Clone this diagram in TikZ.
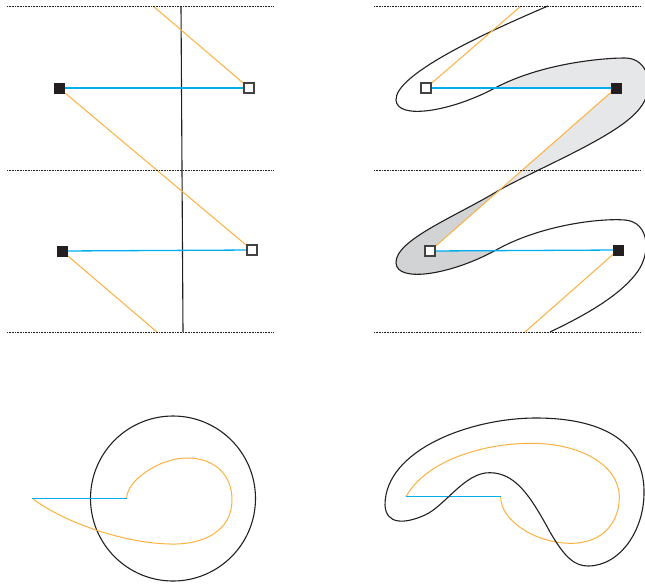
\documentclass[tikz,border=0pt]{standalone}
\usetikzlibrary{calc}
\definecolor{org}{HTML}{FBB040}
\definecolor{cyn}{HTML}{00AEEF}
\definecolor{ink}{HTML}{231F20}
\definecolor{lgray}{HTML}{E6E7E8}
\definecolor{dgray}{HTML}{D1D3D4}
\pgfdeclarelayer{bg}
\pgfsetlayers{bg,main}
\begin{document}
\begin{tikzpicture}[x=1pt,y=-1pt,
  guide/.style={ink,line width=0.6pt,dash pattern=on 0.8pt off 0.8pt},
  oline/.style={org,line width=1pt},
  bline/.style={cyn,line width=1.3pt},
  kline/.style={ink,line width=1.1pt},
  fsq/.style={rectangle,fill=ink,draw=none,minimum size=11pt,inner sep=0pt},
  osq/.style={rectangle,fill=white,draw=ink!85,line width=1.2pt,minimum size=10pt,inner sep=0pt}]
\useasboundingbox (0,0) rectangle (645,584);

% ---------- top-left panel ----------
\draw[guide] (7,6) -- (274,6);
\draw[guide] (7,170) -- (274,170);
\draw[guide] (7,332) -- (274,332);
\node[fsq] (lf1) at (59,88) {};
\node[osq] (lo1) at (249,88) {};
\node[fsq] (lf2) at (62,251) {};
\node[osq] (lo2) at (252,250) {};
\coordinate (lt) at (153,6);
\coordinate (lb) at (157,332);
\coordinate (vt) at (181,6);
\coordinate (vb) at (183,332);
\begin{pgfonlayer}{bg}
\draw[kline] (vt) -- (vb);
\draw[bline] (lf1.center) -- (lo1.center);
\draw[bline] (lf2.center) -- (lo2.center);
\draw[oline] (lt) -- (lo1.center);
\draw[oline] (lf1.center) -- (lo2.center);
\draw[oline] (lf2.center) -- (lb);
\end{pgfonlayer}

% ---------- top-right panel ----------
\draw[guide] (374,6) -- (640,6);
\draw[guide] (374,170) -- (640,170);
\draw[guide] (374,332) -- (640,332);
\node[osq] (ro1) at (426,88) {};
\node[fsq] (rf1) at (616,88) {};
\node[osq] (ro2) at (430,251) {};
\node[fsq] (rf2) at (618,250) {};
\coordinate (rt) at (521,6);
\coordinate (rb) at (525,332);
\coordinate (A) at (495,88);
\coordinate (B) at ($(rf1.center)!0.6237!(ro2.center)$);
\coordinate (C) at (495,250.6);
\begin{pgfonlayer}{bg}
\fill[lgray] (A) .. controls (540,64) and (600,58) .. (625,58)
  .. controls (650,58) and (655,90) .. (640,108)
  .. controls (620,135) and (545,165) .. (B) -- (rf1.center) -- cycle;
\fill[dgray] (B) .. controls (455,217) and (395,240) .. (396,263)
  .. controls (397,283) and (450,275) .. (C) -- (ro2.center) -- cycle;
\draw[kline] (548,6) .. controls (480,35) and (395,75) .. (396,100)
  .. controls (397,120) and (450,112) .. (A)
  .. controls (540,64) and (600,58) .. (625,58)
  .. controls (650,58) and (655,90) .. (640,108)
  .. controls (620,135) and (545,165) .. (B)
  .. controls (455,217) and (395,240) .. (396,263)
  .. controls (397,283) and (450,275) .. (C)
  .. controls (540,225) and (600,218) .. (625,220)
  .. controls (650,222) and (652,255) .. (635,275)
  .. controls (615,300) and (575,320) .. (550,332);
\draw[bline] (ro1.center) -- (rf1.center);
\draw[bline] (ro2.center) -- (rf2.center);
\draw[oline] (rt) -- (ro1.center);
\draw[oline] (rf1.center) -- (ro2.center);
\draw[oline] (rf2.center) -- (rb);
\end{pgfonlayer}

% ---------- bottom-left panel ----------
\coordinate (p1) at (32.3,498.3);
\coordinate (p2) at (126.7,498.3);
\draw[kline] (173,498.5) circle[radius=82.5];
\draw[oline] (p2) .. controls (126.7,480) and (160,458) .. (187,458)
  .. controls (215,458) and (232,475) .. (232,500)
  .. controls (232,530) and (205,545) .. (170,544)
  .. controls (120,543) and (60,520) .. (p1);
\draw[bline] (p1) -- (p2);

% ---------- bottom-right panel ----------
\coordinate (q1) at (406,496.7);
\coordinate (q2) at (500.7,496.7);
\draw[oline] (q2) .. controls (500,520) and (535,543) .. (570,543.3)
  .. controls (605,543.6) and (619.5,520) .. (619.3,496.7)
  .. controls (619,465) and (580,443) .. (530,443.3)
  .. controls (480,443.6) and (425,462) .. (q1);
\draw[bline] (q1) -- (q2);
\draw[kline] (385,505) .. controls (386,525) and (405,524) .. (425,515)
  .. controls (445,506) and (465,472) .. (490,472.7)
  .. controls (515,473) and (530,495) .. (550,532)
  .. controls (565,558) and (575,566) .. (588,566)
  .. controls (620,566) and (645,530) .. (644,490)
  .. controls (643,440) and (600,418) .. (536,418)
  .. controls (470,418) and (385,450) .. cycle;
\end{tikzpicture}
\end{document}
